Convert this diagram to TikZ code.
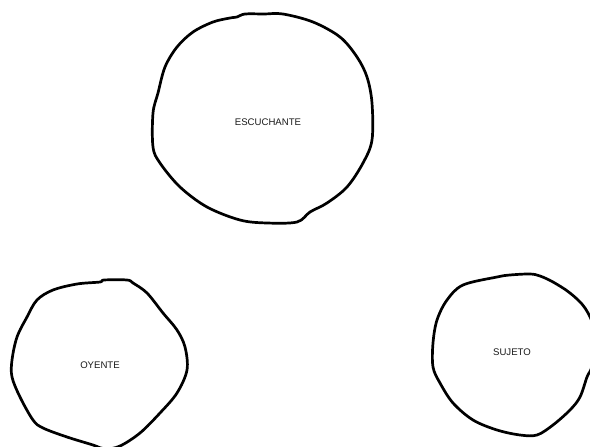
\documentclass[tikz,border=0pt]{standalone}
\usepackage{fontspec}
\setmainfont{Liberation Sans}
\begin{document}
\begin{tikzpicture}[x=1pt,y=-1pt,
  blob/.style={draw=black,line width=2.7pt,line join=round,line cap=round},
  lbl/.style={font=\fontsize{9.6}{11}\selectfont,text=black!90,inner sep=0pt}]
\useasboundingbox (0,0) rectangle (590,447);
\clip (0,0) rectangle (590,447);
% ESCUCHANTE
\draw[blob] plot[smooth cycle,tension=0.55] coordinates {
 (237,17) (245,14) (264,14) (283,14) (313,22) (340,37) (357,57) (367,77) (372,103)
 (372,140) (363,163) (347,187) (327,203) (310,212) (297,222) (267,223)
 (240,220) (207,207) (180,187) (160,163) (153,147) (153,113) (158,93)
 (165,67) (177,47) (193,32) (213,22) (230,18)};
\node[lbl] (escuchante) at (268,122) {ESCUCHANTE};
% OYENTE
\draw[blob] plot[smooth cycle,tension=0.55] coordinates {
 (100,282) (104,280) (127,280) (133,283) (147,293) (163,313) (177,330) (185,347)
 (187,370) (177,393) (160,413) (140,433) (120,446) (105,449) (93,445) (67,437) (43,428)
 (33,420) (20,397) (12,377) (12,360) (17,337) (27,317) (37,300) (53,290) (77,284)};
\node[lbl] (oyente) at (100,365) {OYENTE};
% SUJETO
\draw[blob] plot[smooth cycle,tension=0.55] coordinates {
 (497,277) (510,275) (530,274) (540,276) (553,282) (570,293) (585,308) (594,330)
 (592,365) (587,377) (580,397) (570,410) (553,425) (537,435) (520,435) (497,430)
 (473,420) (453,403) (440,383) (433,367) (433,343) (437,320) (447,300) (463,285)};
\node[lbl] (sujeto) at (512,352) {SUJETO};
\end{tikzpicture}
\end{document}
